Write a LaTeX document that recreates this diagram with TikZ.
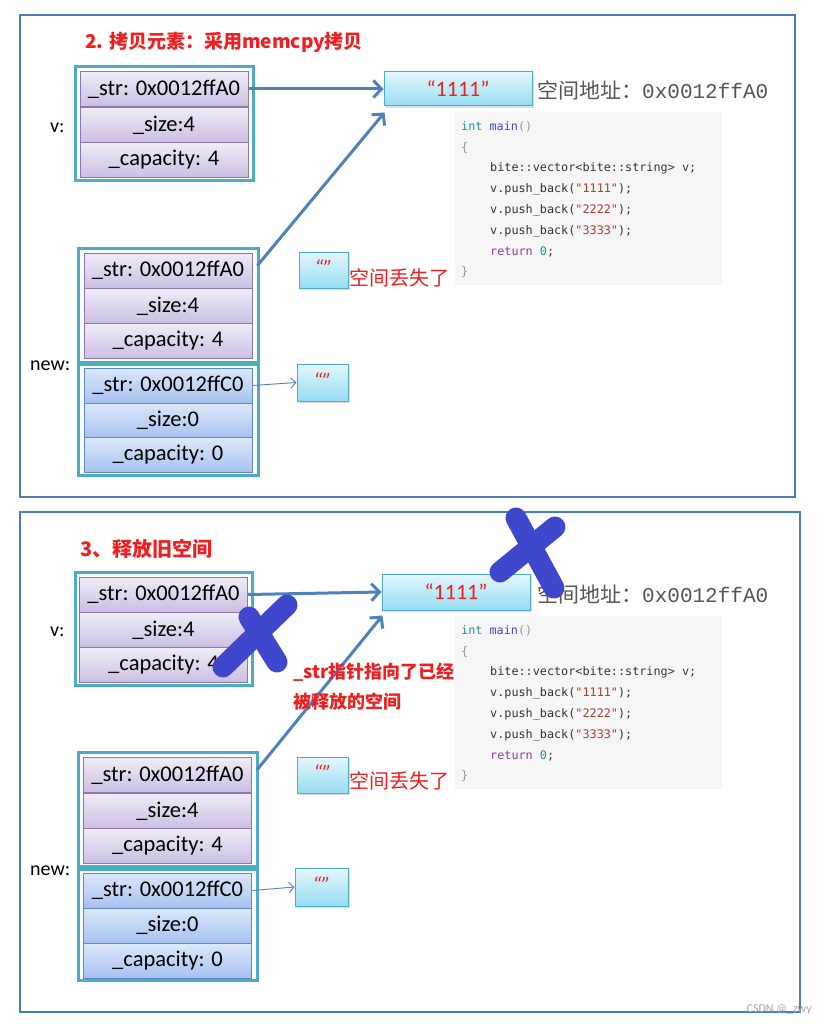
\documentclass[tikz,border=0pt]{standalone}
\usepackage{fontspec}
\setmainfont{Carlito}
\newfontfamily\cjk{Noto Sans CJK SC}
\newfontfamily\codef{DejaVu Sans Mono}
\newfontfamily\monof{Liberation Mono}
\usetikzlibrary{arrows.meta,shadows,calc}
\definecolor{frameblue}{RGB}{74,126,187}
\definecolor{arrowblue}{RGB}{79,129,189}
\definecolor{tealframe}{RGB}{75,172,198}
\definecolor{ptop}{RGB}{240,236,247}
\definecolor{pbot}{RGB}{204,190,227}
\definecolor{pborder}{RGB}{140,118,178}
\definecolor{btop}{RGB}{220,232,250}
\definecolor{bbot}{RGB}{166,194,240}
\definecolor{bborder}{RGB}{92,138,200}
\definecolor{ctop}{RGB}{228,247,253}
\definecolor{cbot}{RGB}{150,220,242}
\definecolor{redtxt}{RGB}{240,30,30}
\definecolor{codebg}{RGB}{246,246,246}
\definecolor{ctext}{RGB}{50,52,60}
\definecolor{ckw}{RGB}{30,150,140}
\definecolor{cfn}{RGB}{70,70,210}
\definecolor{cstr}{RGB}{168,60,55}
\definecolor{cret}{RGB}{140,60,160}
\definecolor{cgray}{RGB}{150,150,150}
\definecolor{xblue}{RGB}{63,72,204}
\definecolor{addrgray}{RGB}{85,85,85}
\newcommand\codeblk[2]{%
  \fill[codebg] (455,#2) rectangle (722,#2+173);
  \node[codeln] (#1-1) at (461,#2+15) {\textcolor{ckw}{int} \textcolor{cfn}{main}\textcolor{cgray}{()}};
  \node[codeln] (#1-2) at (461,#2+36) {\textcolor{cgray}{\{}};
  \node[codeln] (#1-3) at (490,#2+56) {bite::vector<bite::string> v;};
  \node[codeln] (#1-4) at (490,#2+77) {v.push\_back(\textcolor{cstr}{"1111"});};
  \node[codeln] (#1-5) at (490,#2+98) {v.push\_back(\textcolor{cstr}{"2222"});};
  \node[codeln] (#1-6) at (490,#2+119) {v.push\_back(\textcolor{cstr}{"3333"});};
  \node[codeln] (#1-7) at (490,#2+140) {\textcolor{cret}{return} \textcolor{ckw}{0};};
  \node[codeln] (#1-8) at (461,#2+160) {\textcolor{cgray}{\}}};
}
\newcommand\emptystr{\raisebox{4pt}{\textcolor{redtxt}{\itshape\fontsize{22}{22}\selectfont “”}}}
\begin{document}
\begin{tikzpicture}[x=1pt,y=-1pt,
  panel/.style={draw=frameblue,line width=2pt},
  outerframe/.style={draw=tealframe,line width=3pt,fill=white},
  cellp/.style={draw=pborder,line width=0.8pt,top color=ptop,bottom color=pbot,minimum width=168pt,minimum height=35pt,inner sep=0pt,font=\fontsize{22.5}{24}\selectfont},
  cellb/.style={draw=bborder,line width=0.8pt,top color=btop,bottom color=bbot,minimum width=168pt,minimum height=35pt,inner sep=0pt,font=\fontsize{22.5}{24}\selectfont},
  strbox/.style={draw=tealframe,line width=1pt,top color=ctop,bottom color=cbot,inner sep=0pt,drop shadow={opacity=0.25,shadow xshift=2pt,shadow yshift=-2pt}},
  bigarrow/.style={draw=arrowblue,line width=3pt,-{Straight Barb[length=8pt,width=17pt]}},
  thinarrow/.style={draw=arrowblue,line width=0.9pt,-{Straight Barb[length=5pt,width=10pt]}},
  codeln/.style={anchor=west,inner sep=0pt,text=ctext,font=\codef\fontsize{11.8}{13}\selectfont},
  title/.style={anchor=west,inner sep=0pt,text=redtxt,font=\cjk\bfseries\fontsize{19}{22}\selectfont},
  lbl/.style={anchor=west,inner sep=0pt,font=\fontsize{20}{22}\selectfont},
  lost/.style={anchor=west,inner sep=0pt,text=redtxt,font=\cjk\fontsize{20}{22}\selectfont},
  addr/.style={anchor=west,inner sep=0pt,text=addrgray,font=\fontsize{21}{24}\selectfont},
  xmark/.style={draw=xblue,line width=21pt,line cap=round}]
\useasboundingbox (0,0) rectangle (816,1024);
\fill[white] (0,0) rectangle (816,1024);

% ================= panel 1 =================
\draw[panel] (20,15) rectangle (795,497);
\node[title] (t1) at (85,42) {2. 拷贝元素：采用memcpy拷贝};

\draw[outerframe] (75,67) rectangle (253,181);
\node[cellp] (v1) at (164,89) {\_str: 0x0012ffA0};
\node[cellp] (v2) at (164,125) {\_size:4};
\node[cellp] (v3) at (164,160) {\_capacity: 4};
\node[lbl] (vl1) at (50,128) {v:};

\node[strbox,minimum width=148pt,minimum height=34pt] (s1) at (458,89) {\textcolor{redtxt}{\fontsize{22}{24}\selectfont “1111”}};
\node[addr] (a1) at (537,90) {{\cjk 空间地址：}{\monof 0x0012ffA0}};
\codeblk{k1}{112}

\draw[outerframe] (78,248) rectangle (258,362);
\node[cellp] (c1) at (168,270.5) {\_str: 0x0012ffA0};
\node[cellp] (c2) at (168,306) {\_size:4};
\node[cellp] (c3) at (168,341) {\_capacity: 4};

\node[strbox,minimum width=49pt,minimum height=36pt] (e1) at (323.5,270) {\emptystr};
\node[lost] (l1) at (349,278) {空间丢失了};
\node[lbl] (nl1) at (30,366) {new:};

\draw[outerframe] (78,364) rectangle (258,475);
\node[cellb] (n1) at (168,385.5) {\_str: 0x0012ffC0};
\node[cellb] (n2) at (168,420.5) {\_size:0};
\node[cellb] (n3) at (168,455) {\_capacity: 0};
\node[strbox,minimum width=51pt,minimum height=37pt] (e2) at (322.5,382.5) {\emptystr};

\draw[bigarrow] (v1.east) -- (s1.west);
\draw[bigarrow] ($(c1.east)+(5,-5)$) -- ($(s1.south west)+(1,6)$);
\draw[thinarrow] (n1.east) -- (e2.west);

% ================= panel 2 =================
\draw[panel] (20,512) rectangle (800,1012);
\node[title,font=\cjk\bfseries\fontsize{20}{22}\selectfont] (t2) at (80,549) {3、释放旧空间};

\draw[outerframe] (75,572) rectangle (252,685);
\node[cellp] (w1) at (163.5,594.5) {\_str: 0x0012ffA0};
\node[cellp] (w2) at (163.5,630) {\_size:4};
\node[cellp] (w3) at (163.5,665) {\_capacity: 4};
\node[lbl] (vl2) at (50,632) {v:};

\node[strbox,minimum width=148pt,minimum height=36pt] (s2) at (456,592) {\textcolor{redtxt}{\fontsize{22}{24}\selectfont “1111”}};
\node[addr] (a2) at (537,594) {{\cjk 空间地址：}{\monof 0x0012ffA0}};
\codeblk{k2}{616}

\draw[outerframe] (78,752) rectangle (257,866);
\node[cellp] (d1) at (167.5,775) {\_str: 0x0012ffA0};
\node[cellp] (d2) at (167.5,811) {\_size:4};
\node[cellp] (d3) at (167.5,845.5) {\_capacity: 4};

\node[strbox,minimum width=51pt,minimum height=36pt] (e3) at (322.5,775) {\emptystr};
\node[lost] (l2) at (349,781) {空间丢失了};
\node[lbl] (nl2) at (30,871) {new:};

\draw[outerframe] (78,869) rectangle (257,980);
\node[cellb] (m1) at (167.5,890.5) {\_str: 0x0012ffC0};
\node[cellb] (m2) at (167.5,925.5) {\_size:0};
\node[cellb] (m3) at (167.5,960.5) {\_capacity: 0};
\node[strbox,minimum width=53pt,minimum height=38pt] (e4) at (321.5,887) {\emptystr};

\draw[bigarrow] (w1.east) -- (s2.west);
\draw[bigarrow] ($(d1.east)+(5,-5)$) -- ($(s2.south west)+(1,5)$);
\draw[thinarrow] (m1.east) -- (e4.west);

\node[title,font=\cjk\bfseries\fontsize{18}{21}\selectfont] (r1) at (293,672) {\_str指针指向了已经};
\node[title,font=\cjk\bfseries\fontsize{18}{21}\selectfont] (r2) at (293,702) {被释放的空间};

% X marks
\draw[xmark] (223,667) -- (287,605);
\draw[xmark] (249,617) -- (277,662);
\draw[xmark] (500,572) -- (555,527);
\draw[xmark] (516,518) -- (554,588);

\node[anchor=east,inner sep=0pt,text=black!35,font=\fontsize{12}{13}\selectfont] (wm) at (812,1010) {CSDN @\_zwy};
\end{tikzpicture}
\end{document}
